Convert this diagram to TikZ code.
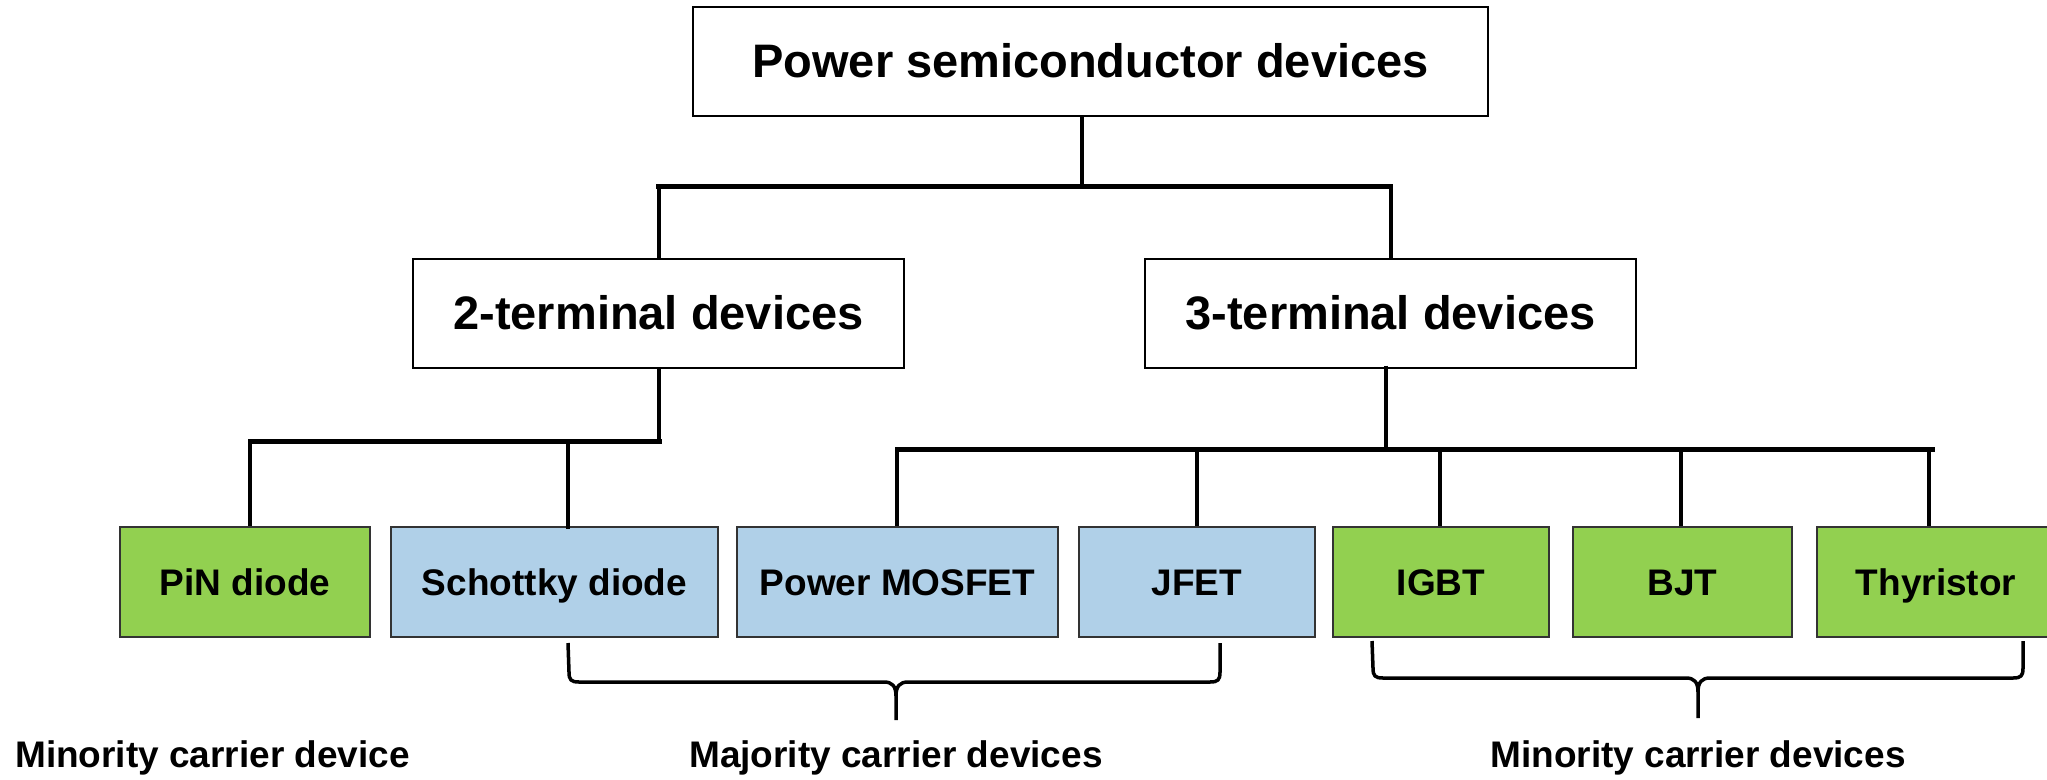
\documentclass[tikz,border=0pt]{standalone}
\usepackage{fontspec}
\setmainfont{Liberation Sans}
\newcommand\bigtxt{\fontsize{47}{56}\selectfont\bfseries}
\newcommand\smalltxt{\fontsize{37}{44}\selectfont\bfseries}
\definecolor{devgreen}{HTML}{92D050}
\definecolor{devblue}{HTML}{B0D0E8}
\begin{document}
\begin{tikzpicture}[x=1pt,y=-1pt,
  catbox/.style={draw=black, line width=2pt, fill=white, font=\bigtxt,
    text height=33.6pt, text depth=0pt, inner sep=0pt, minimum height=109pt},
  devbox/.style={draw=black!80, line width=1.8pt, font=\smalltxt,
    text height=26.5pt, text depth=0pt, inner sep=0pt, minimum height=110pt},
  minor/.style={devbox, fill=devgreen},
  major/.style={devbox, fill=devblue},
  vline/.style={draw=black, line width=4pt},
  bus/.style={draw=black, line width=5pt, line cap=rect},
  bracel/.style={draw=black, line width=3.5pt, line join=round},
  lbl/.style={font=\smalltxt, inner sep=0pt}
]
\useasboundingbox (0,0) rectangle (2047,779);
\fill[white] (0,0) rectangle (2047,779);

% top level
\node[catbox, minimum width=795pt] (top) at (1090.5,61) {Power semiconductor devices};
\node[catbox, minimum width=491pt] (two) at (658.5,313) {2-terminal devices};
\node[catbox, minimum width=491pt] (three) at (1390.5,313) {3-terminal devices};

% device boxes
\node[minor, minimum width=250pt] (pin) at (245,582) {PiN diode};
\node[major, minimum width=327pt] (sch) at (554.5,582) {Schottky diode};
\node[major, minimum width=321pt] (mos) at (897.5,582) {Power MOSFET};
\node[major, minimum width=236pt] (jfet) at (1197,582) {JFET};
\node[minor, minimum width=216pt] (igbt) at (1441,582) {IGBT};
\node[minor, minimum width=219pt] (bjt) at (1682.5,582) {BJT};
\node[minor, minimum width=238pt] (thy) at (1936,582) {Thyristor};

% junctions
\coordinate (b1) at (1082,186);
\coordinate (b2) at (659,441);
\coordinate (b3) at (1386,449);

% level 1 connectors
\draw[vline] (top.south -| b1) -- (b1);
\draw[bus] (two.north |- b1) -- (three.north |- b1);
\draw[vline] (two.north |- b1) -- (two.north);
\draw[vline] (three.north |- b1) -- (three.north);

% 2-terminal connectors
\draw[vline] (two.south -| b2) -- (b2);
\draw[bus] ([xshift=5pt]pin.north |- b2) -- (b2);
\draw[vline] ([xshift=5pt]pin.north |- b2) -- ([xshift=5pt]pin.north);
\draw[vline] ([xshift=13.5pt]sch.north |- b2) -- ([xshift=13.5pt,yshift=-3pt]sch.north);

% 3-terminal connectors
\draw[vline] ([yshift=3pt]three.south -| b3) -- (b3);
\draw[bus] ([xshift=-0.5pt]mos.north |- b3) -- ([xshift=-4pt]thy.north |- b3);
\draw[vline] ([xshift=-0.5pt]mos.north |- b3) -- ([xshift=-0.5pt]mos.north);
\draw[vline] (jfet.north |- b3) -- (jfet.north);
\draw[vline] ([xshift=-1pt]igbt.north |- b3) -- ([xshift=-1pt]igbt.north);
\draw[vline] ([xshift=-1.5pt]bjt.north |- b3) -- ([xshift=-1.5pt]bjt.north);
\draw[vline] ([xshift=-7pt]thy.north |- b3) -- ([xshift=-7pt]thy.north);

% braces
\draw[bracel] (568,643) -- (569,672) .. controls (569,680) and (571,682) .. (579,682)
  -- (884,682) .. controls (892,682) and (896,686) .. (896,696) -- (896,720);
\draw[bracel] (896,696) .. controls (896,686) and (900,682) .. (908,682)
  -- (1210,682) .. controls (1218,682) and (1220,680) .. (1220,672) -- (1220,643);

\draw[bracel] (1372,641) -- (1373,668) .. controls (1373,676) and (1375,678) .. (1383,678)
  -- (1686,678) .. controls (1694,678) and (1698,682) .. (1698,692) -- (1698,718);
\draw[bracel] (1698,692) .. controls (1698,682) and (1702,678) .. (1710,678)
  -- (2013,678) .. controls (2021,678) and (2023,676) .. (2023,668) -- (2023,641);

% labels
\node[lbl, anchor=base west] (minA) at (15,767) {Minority carrier device};
\node[lbl, anchor=base] (maj) at (896,767) {Majority carrier devices};
\node[lbl, anchor=base] (minB) at (1698,767) {Minority carrier devices};
\end{tikzpicture}
\end{document}
